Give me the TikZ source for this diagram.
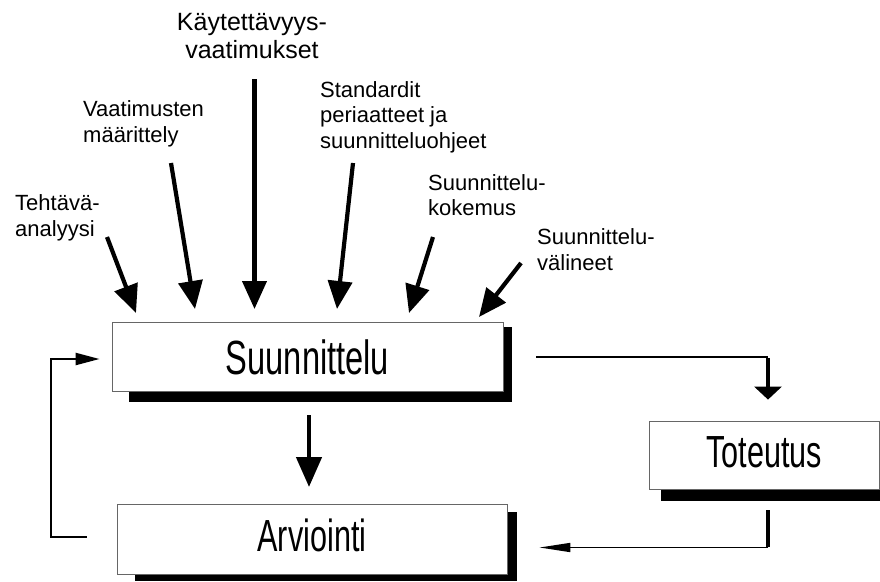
\documentclass[tikz,border=0pt]{standalone}
\usepackage{fontspec}
\setmainfont{Liberation Sans}
\newfontfamily\stagefont[FakeStretch=0.68]{Liberation Sans}
\usetikzlibrary{arrows.meta,calc}

\begin{document}
\begin{tikzpicture}[x=1pt,y=-1pt,
  inputlabel/.style={font=\fontsize{22}{25.5}\selectfont, align=left, anchor=base west, inner sep=0pt},
  stagebox/.style={draw=black!60, line width=0.8pt, fill=white, inner sep=0pt,
    font=\stagefont\fontsize{45}{45}\selectfont},
  shadowfill/.style={fill=black},
  inflow/.style={line width=4.2pt, -{Triangle[length=28pt,width=24pt]}},
  thinline/.style={line width=1.6pt},
  thickline/.style={line width=4.5pt}
]
\useasboundingbox (0,0) rectangle (880,581);

% ---- input labels (placed by the baseline of their last line) ----
\node[inputlabel] (tehtava) at (15,236) {Tehtävä-\\analyysi};
\node[inputlabel] (vaatim) at (83,142) {Vaatimusten\\määrittely};
\node[font=\fontsize{25}{27.5}\selectfont, align=center, anchor=base, inner sep=0pt]
  (kaytet) at (252,58) {Käytettävyys-\\vaatimukset};
\node[inputlabel] (standard) at (320,148) {Standardit\\periaatteet ja\\suunnitteluohjeet};
\node[inputlabel] (kokemus) at (428,215.5) {Suunnittelu-\\kokemus};
\node[inputlabel] (valineet) at (537,270) {Suunnittelu-\\välineet};

% ---- stage boxes with drop shadows ----
\fill[shadowfill] (129,402) rectangle (512,327);
\node[stagebox, minimum width=391pt, minimum height=69pt,
  font=\stagefont\fontsize{48}{48}\selectfont, text height=35pt, text depth=-2pt]
  (suun) at (307.5,356.5) {Suunnittelu};

\fill[shadowfill] (135,581) rectangle (517,512);
\node[stagebox, minimum width=390pt, minimum height=70pt, text height=33pt, text depth=9pt]
  (arv) at (312,539) {Arviointi};

\fill[shadowfill] (661,501) rectangle (890,429);
\node[stagebox, minimum width=230pt, minimum height=68pt, text height=33pt, text depth=8pt]
  (tot) at (764,455) {Toteutus};

% ---- input arrows into the design stage ----
\coordinate (t0) at (107,237);  \coordinate (t1) at (136,313);
\coordinate (v0) at (171,163);  \coordinate (v1) at (195,309);
\coordinate (k0) at (254.5,79); \coordinate (k1) at (254.5,309);
\coordinate (s0) at (353,163);  \coordinate (s1) at (337,309);
\coordinate (e0) at (433,237);  \coordinate (e1) at (409,313);
\coordinate (w0) at (521,263);  \coordinate (w1) at (479,317);
\draw[inflow] (t0) -- (t1);
\draw[inflow] (v0) -- (v1);
\draw[inflow] (k0) -- (k1);
\draw[inflow] (s0) -- (s1);
\draw[inflow] (e0) -- (e1);
\draw[inflow] (w0) -- (w1);

% ---- design -> implementation ----
\coordinate (st0) at ($(suun.east)+(33,0.5)$);
\coordinate (st1) at (768,357);
\coordinate (st2) at ($(tot.north)+(4,-21)$);
\draw[thinline] (st0) -- (st1);
\draw[line width=4.5pt, -{Triangle[length=13pt,width=27pt]}] ([yshift=-1pt]st1) -- (st2);

% ---- implementation -> evaluation ----
\coordinate (ta0) at ($(tot.south)+(4,21)$);
\coordinate (ta1) at (768,547.5);
\coordinate (ta2) at ($(arv.east)+(32,8.5)$);
\draw[line width=4.5pt] (ta0) -- ([yshift=1pt]ta1);
\draw[thinline, -{Triangle[length=31pt,width=9pt]}] (ta1) -- (ta2);

% ---- design -> evaluation ----
\coordinate (sa0) at (309,415);
\coordinate (sa1) at (309,487);
\draw[line width=4.6pt, -{Triangle[length=30pt,width=25pt]}] (sa0) -- (sa1);

% ---- evaluation feeds back into design ----
\coordinate (fb0) at ($(arv.west)+(-30,-2)$);
\coordinate (fb1) at ($(suun.west)+(-12,2.5)$);
\draw[line width=2.2pt, -{Triangle[length=24pt,width=12pt]}]
  (fb0) -- (51,537) -- (51,359) -- (fb1);
\end{tikzpicture}
\end{document}
